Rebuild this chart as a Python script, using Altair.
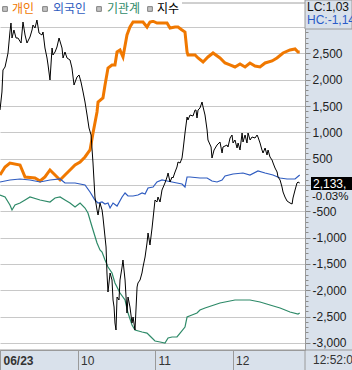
import altair as alt
import pandas as pd

# ---- data (time = minutes after 09:00) ----
ind_t = [0,3.9,7.7,15.5,19.4,27.1,31,34.8,38.7,42.6,46.5,50.3,54.2,58.1,62,65.8,69.7,72,75.1,75.9,
         79.7,81.3,83.6,86.7,89,90.6,92.9,94.5,95.2,98.3,100.6,103,106.8,110.7,113.8,116.1,118.5,121.5,125.4,129.3,
         131.6,135.5,137.8,140.9,143.2,144.8,145.5,151,153.3,157.2,161,164.9,170.3,174.2,178,181.9,185.8,189.7,193.5,197.4,
         201.3,205.2,210.6,214.4,219.1,224.5,228.4,230.7,232]
ind_v = [190,342,418,380,152,133,76,152,285,190,95,190,285,380,437,532,665,987,1386,1576,
         1652,1899,2222,2279,2279,2526,2564,2469,2431,2849,3000,3095,3095,3095,3000,3095,3110,3076,3076,3076,
         2981,3000,3000,2943,2905,2526,2469,2469,2412,2336,2431,2507,2412,2317,2279,2241,2298,2241,2317,2260,
         2241,2317,2355,2412,2507,2564,2583,2526,2526]

for_t = [0,7.7,15.5,23.2,31,38.7,46.5,50.3,58.1,65.8,69.7,73.5,75.9,79,81.3,83.6,85.2,87.5,90.6,94.5,
         96.8,99.1,103,106.8,110,112.3,114.6,118.5,121.5,125.4,129.3,133.2,137,140.9,143.2,144.8,147.1,154.8,160.3,164.1,
         168,171.9,174.2,180.4,188.1,193.5,199.7,205.2,211.3,216.8,222.2,228.4,232]
for_v = [57,95,114,95,57,95,114,38,38,0,-133,-285,-342,-323,-361,-342,-437,-342,-399,-228,
         -152,-209,-209,-190,-152,-171,-57,-38,57,95,76,57,38,19,-38,152,152,133,133,76,
         57,95,171,209,228,190,266,228,190,133,114,114,190]

ins_t = [0,3.9,7.7,9.3,11.6,15.5,19.4,23.2,31,38.7,42.6,46.5,50.3,54.2,58.1,62,65.8,68.1,71.3,75.1,
         77.4,79,81.3,83.6,86.7,89,92.9,96.8,99.1,102.2,104.5,110,113.8,116.1,120,123.9,127.7,130.1,133.2,137,
         139.4,143.2,144.8,148.6,152.5,154.8,158.7,170.3,181.9,193.5,201.3,209,216.8,224.5,230.7,232]
ins_v = [-190,-228,-380,-475,-380,-342,-285,-228,-285,-323,-247,-228,-285,-342,-418,-342,-437,-532,-798,-1101,
         -1234,-1272,-1424,-1557,-1671,-1861,-2051,-2184,-2431,-2659,-2754,-2792,-2811,-2867,-2962,-2981,-3000,-2905,-2886,-2886,
         -2811,-2697,-2507,-2469,-2431,-2374,-2336,-2241,-2184,-2184,-2222,-2279,-2336,-2412,-2450,-2431]

idx_t = [0,1.5,2.3,3.9,5.4,6.2,7.7,8.5,9.3,10.8,12.4,13.9,16.3,17.8,19.4,20.9,23.2,24.8,25.5,27.1,
         28.6,30.2,32.5,33.3,34.8,36.4,37.2,38.7,40.3,41.0,42.6,44.1,45.7,48.0,48.8,50.3,51.9,54.2,55.7,57.3,
         59.6,61.2,62.7,64.3,65.8,67.4,68.9,70.5,72.0,73.5,75.1,75.9,77.4,79.0,79.7,81.3,82.1,82.8,83.6,85.2,
         86.7,87.5,88.3,89.0,89.8,90.6,92.1,92.9,94.5,95.2,96.8,98.3,99.1,100.6,102.2,103.0,104.5,106.1,106.8,108.4,
         109.9,110.7,112.3,113.8,114.6,116.1,117.7,120.0,121.5,122.3,123.9,125.4,127.7,129.3,130.1,131.6,133.2,133.9,135.5,137.0,
         137.8,139.4,140.9,141.7,143.2,144.8,145.5,147.1,149.4,151.0,151.7,152.5,153.3,154.8,156.4,157.2,158.7,160.3,161.0,163.4,
         164.1,165.7,168.0,170.3,171.9,172.6,175.7,176.5,178.1,179.6,180.4,181.9,183.5,184.3,185.8,187.4,188.1,189.7,191.2,192.0,
         193.6,195.1,197.4,199.0,199.7,201.3,202.8,203.6,205.2,206.7,207.5,209.0,210.6,211.4,212.9,214.5,215.2,216.8,218.3,219.1,
         220.6,222.2,224.5,226.1,226.8,228.4,229.9,230.7,232.0]
idx_v = [2138.84,2140.28,2142.04,2142.28,2143.00,2143.40,2145.08,2145.80,2144.60,2145.24,
         2144.60,2144.60,2144.20,2145.88,2144.84,2144.20,2144.68,2145.24,2145.64,2145.40,
         2146.04,2145.00,2144.84,2145.08,2143.80,2143.00,2142.44,2141.24,2143.80,2143.24,
         2143.48,2143.88,2144.60,2143.80,2143.00,2143.48,2143.00,2142.84,2142.20,2140.84,
         2141.48,2141.64,2141.08,2140.28,2139.48,2138.44,2137.40,2136.84,2134.60,2131.88,
         2130.84,2130.44,2131.40,2130.84,2130.28,2128.68,2127.88,2125.80,2124.28,2125.80,
         2125.24,2123.64,2123.08,2121.80,2121.24,2123.88,2123.64,2125.24,2126.28,2126.84,
         2125.24,2122.60,2123.88,2123.08,2121.80,2122.28,2121.24,2124.68,2125.00,2125.24,
         2125.80,2126.28,2127.08,2128.20,2129.00,2128.04,2129.40,2131.64,2131.48,2131.88,
         2131.48,2132.44,2133.00,2133.48,2133.80,2133.08,2133.48,2133.40,2133.88,2134.28,
         2134.68,2134.60,2135.00,2135.64,2137.00,2138.28,2138.04,2138.44,2138.36,2138.84,
         2138.84,2138.20,2138.84,2139.00,2139.48,2139.08,2138.44,2137.24,2136.44,2135.88,
         2135.00,2135.64,2136.04,2136.28,2135.40,2135.88,2136.04,2135.88,2136.60,2136.84,
         2136.20,2136.44,2135.80,2136.20,2135.64,2137.00,2136.28,2136.84,2136.20,2137.00,
         2136.44,2136.68,2136.60,2136.84,2136.68,2136.20,2135.64,2135.40,2135.80,2135.24,
         2135.64,2135.08,2134.84,2134.60,2134.20,2133.88,2133.48,2133.24,2132.68,2132.28,
         2131.88,2131.56,2131.40,2131.32,2131.80,2132.44,2133.00,2133.08,2133.00]

series_names = ["개인", "외국인", "기관계", "지수"]
series_colors = ["#f07800", "#2f5cc0", "#2e8a68", "#000000"]
tick_minutes = [0, 60, 120, 180]
tick_labels = ["06/23", "10", "11", "12"]
last_index = "2,133,"
last_change = "-0.03%"
last_time = "12:52:0"
lc_text = "LC:1,03"
hc_text = "HC:-1,14"

W, H = 305, 330
PANEL = "#d9e1eb"
FONT = "Liberation Sans"
KFONT = "Noto Sans CJK KR"

df_ind = pd.DataFrame({"t": ind_t, "v": ind_v})
df_for = pd.DataFrame({"t": for_t, "v": for_v})
df_ins = pd.DataFrame({"t": ins_t, "v": ins_v})
df_idx = pd.DataFrame({"t": idx_t, "v": idx_v})

label_map = "{" + ",".join(f"'{m}':'{l}'" for m, l in zip(tick_minutes, tick_labels)) + "}"

xaxis = alt.Axis(
    values=tick_minutes, labelExpr=f"{label_map}[datum.value]",
    orient="bottom", grid=False, domain=True, domainColor="#9a9a9a",
    ticks=True, tickSize=20, tickColor="#9a9a9a", labelAlign="left", labelOffset=3,
    labelBaseline="middle", labelPadding=-10, labelFont=FONT, labelFontSize=12,
    labelColor="#333333", labelFlush=False, labelOverlap=False,
    labelFontWeight={"condition": {"test": "datum.value === 0", "value": "bold"}, "value": "normal"},
    title=None,
)
xs = alt.Scale(domain=[0, 236.1], nice=False, zero=False)
X = alt.X("t:Q", scale=xs, axis=xaxis)

yaxis = alt.Axis(
    orient="right", values=list(range(-3000, 3001, 100)),
    labelExpr="(datum.value % 500 === 0 && datum.value !== 0 && datum.value < 3000) ? ((datum.value < 0 ? '-' : '') + format(abs(datum.value), ',')) : ''",
    grid=True, gridColor="#c8c8c8",
    gridOpacity={"condition": {"test": "datum.value % 500 === 0", "value": 1}, "value": 0},
    domain=True, domainColor="#9a9a9a", tickColor="#8a8a8a",
    tickSize={"condition": {"test": "datum.value % 500 !== 0", "value": 3}, "value": 5},
    labelPadding=2, labelFont=FONT, labelFontSize=12, labelColor="#222222",
    labelBaseline="middle", labelOverlap=False, labelFlush=False, title=None,
)
ys = alt.Scale(domain=[-3133, 3133], nice=False, zero=False)
Y = alt.Y("v:Q", scale=ys, axis=yaxis)

ind_line = alt.Chart(df_ind).mark_line(color=series_colors[0], strokeWidth=3).encode(x=X, y=Y)
ins_line = alt.Chart(df_ins).mark_line(color=series_colors[2], strokeWidth=1.2).encode(x=X, y=Y)
for_line = alt.Chart(df_for).mark_line(color=series_colors[1], strokeWidth=1.2).encode(x=X, y=Y)
main = alt.layer(ind_line, ins_line, for_line)

idx_line = alt.Chart(df_idx).mark_line(color=series_colors[3], strokeWidth=1).encode(
    x=X,
    y=alt.Y("v:Q", scale=alt.Scale(domain=[2119.64, 2146.04], nice=False, zero=False), axis=None),
)

one = alt.Data(values=[{}])

def box(x1, x2, y1, y2, **kw):
    return alt.Chart(one).mark_rect(**kw).encode(
        x=alt.value(x1), x2=alt.value(x2), y=alt.value(y1), y2=alt.value(y2))

def txt(s, x, y, **kw):
    return alt.Chart(one).mark_text(text=s, align="left", baseline="middle", **kw).encode(
        x=alt.value(x), y=alt.value(y))

deco = [
    box(0, W, -20, 0, color="white"),
    alt.Chart(one).mark_rule(color="#a0a0a0").encode(x=alt.value(182), x2=alt.value(W), y=alt.value(-17)),
    box(W, 352, -20, 9, fill=PANEL, stroke="#9a9a9a", strokeWidth=1),
    txt(lc_text, W + 2, -13.5, font=FONT, fontSize=12, color="#111111"),
    txt(hc_text, W + 2, -0.5, font=FONT, fontSize=12, color="#2a5cc8"),
    alt.Chart(one).mark_rule(color="#9a9a9a").encode(x=alt.value(0), x2=alt.value(352), y=alt.value(H)),
    alt.Chart(one).mark_rule(color="#9a9a9a").encode(x=alt.value(W), y=alt.value(H), y2=alt.value(H + 20)),
    txt(last_time, W + 8, H + 10, font=FONT, fontSize=12, color="#333333"),
    box(W + 6, 352, 157, 170, color="black"),
    txt(last_change, W + 7, 176.5, font=FONT, fontSize=11.5, color="#111111"),
    txt(last_index, W + 8, 163.5, font=FONT, fontSize=12, color="white"),
]

sq_x = [5, 45, 99, 150]
lab_x = [12, 53, 107, 157]
for name, col, sx, lx in zip(series_names, series_colors, sq_x, lab_x):
    deco.append(alt.Chart(one).mark_square(size=22, fill="#c4c4c4", stroke="#808080", strokeWidth=1, opacity=1)
                .encode(x=alt.value(sx), y=alt.value(-11)))
    deco.append(txt(name, lx, -11, font=KFONT, fontSize=12, color=col))

chart = alt.layer(main, idx_line, *deco).resolve_scale(y="independent").properties(
    width=W, height=H,
    autosize=alt.AutoSizeParams(type="none"),
    padding={"left": 0, "top": 20, "right": 47, "bottom": 20},
).configure(background=PANEL).configure_view(fill="white", strokeWidth=0)

chart.save("out.html", embed_options={"renderer": "svg", "actions": False})
